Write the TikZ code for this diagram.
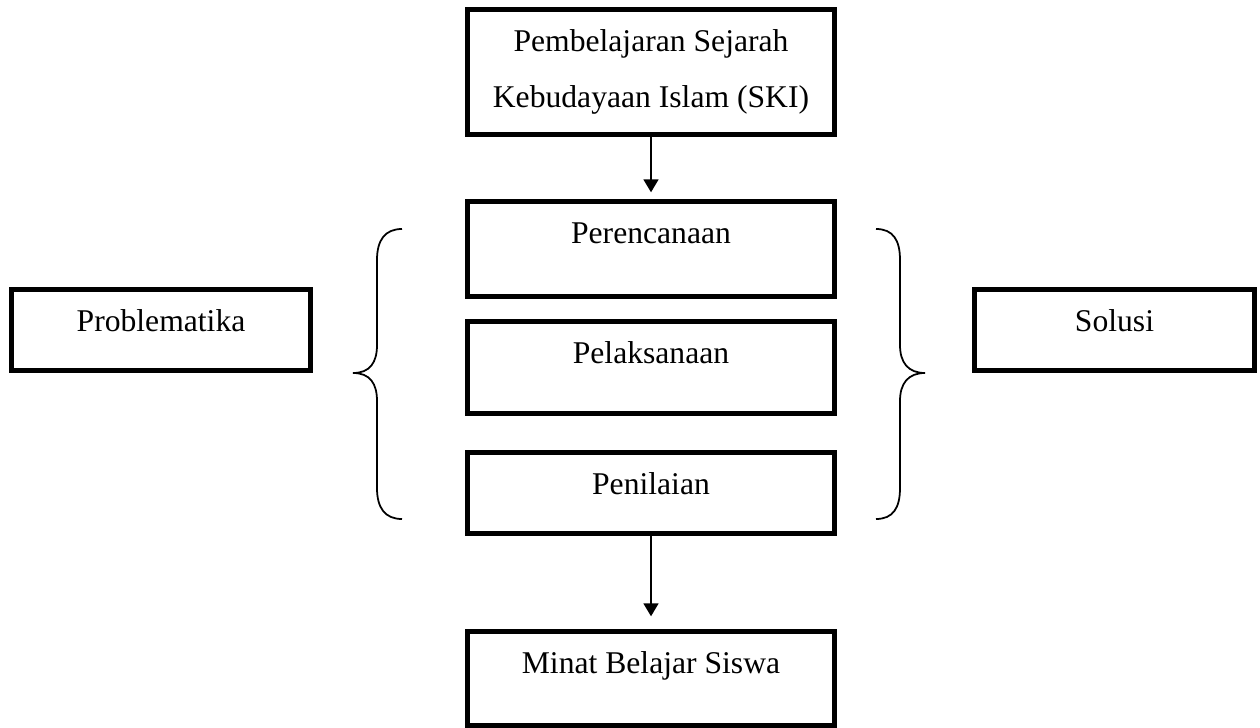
\documentclass[tikz,border=0pt]{standalone}
\usepackage{fontspec}
\setmainfont{Liberation Serif}
\usetikzlibrary{arrows.meta}

\begin{document}
\begin{tikzpicture}[
    % Kotak umum (teks di bagian atas)
    kotak/.style={
        draw, line width=2.5pt, fill=white, inner sep=0pt,
        font=\fontsize{18}{31.7}\selectfont,
        text height=0.84cm, minimum width=7.34cm, align=center
    },
    % Kotak judul (dua baris)
    kotakjudul/.style={
        draw, line width=2.5pt, fill=white, inner sep=0pt,
        font=\fontsize{18}{31.7}\selectfont,
        minimum width=7.34cm, minimum height=2.5cm, align=center
    },
    panah/.style={draw, line width=1pt, -{Triangle[length=0.26cm, width=0.3cm]}},
    kurung/.style={draw, line width=1pt}
]
\useasboundingbox (0,0) rectangle (25.2,-14.56);

% ---- JUDUL ----
\node[kotakjudul] (ski) at (13.02, -1.44) {Pembelajaran Sejarah\\Kebudayaan Islam (SKI)};

% ---- TAHAPAN ----
\node[kotak, text depth=1.06cm] (rencana) at (13.02, -4.98) {Perencanaan};
\node[kotak, text depth=1.00cm] (laksana) at (13.02, -7.35) {Pelaksanaan};
\node[kotak, text depth=0.78cm] (nilai)   at (13.02, -9.86) {Penilaian};

\draw[panah, shorten >=0.14cm] (ski.south) -- (rencana.north);

% ---- HASIL ----
\node[kotak, text depth=1.04cm] (minat) at (13.02, -13.57) {Minat Belajar Siswa};
\draw[panah, shorten >=0.26cm] (nilai.south) -- (minat.north);

% ---- SAMPING ----
\node[kotak, text depth=0.78cm, minimum width=5.98cm] (problem) at (3.22, -6.6)  {Problematika};
\node[kotak, text depth=0.78cm, minimum width=5.6cm]  (solusi)  at (22.29, -6.6) {Solusi};

% Kurung kurawal kiri
\coordinate (kk_atas)  at (8.04, -4.58);
\coordinate (kk_ujung) at (7.06, -7.46);
\coordinate (kk_bawah) at (8.04, -10.38);
\draw[kurung] (kk_atas) .. controls (7.70, -4.58) and (7.54, -4.80) .. (7.54, -5.20)
    -- (7.54, -6.90) .. controls (7.54, -7.25) and (7.40, -7.46) .. (kk_ujung)
    .. controls (7.40, -7.46) and (7.54, -7.67) .. (7.54, -8.02)
    -- (7.54, -9.76) .. controls (7.54, -10.16) and (7.70, -10.38) .. (kk_bawah);

% Kurung kurawal kanan
\coordinate (kn_atas)  at (17.52, -4.58);
\coordinate (kn_ujung) at (18.50, -7.46);
\coordinate (kn_bawah) at (17.52, -10.38);
\draw[kurung] (kn_atas) .. controls (17.86, -4.58) and (18.00, -4.80) .. (18.00, -5.20)
    -- (18.00, -6.90) .. controls (18.00, -7.25) and (18.16, -7.46) .. (kn_ujung)
    .. controls (18.16, -7.46) and (18.00, -7.67) .. (18.00, -8.02)
    -- (18.00, -9.76) .. controls (18.00, -10.16) and (17.86, -10.38) .. (kn_bawah);

\end{tikzpicture}
\end{document}
